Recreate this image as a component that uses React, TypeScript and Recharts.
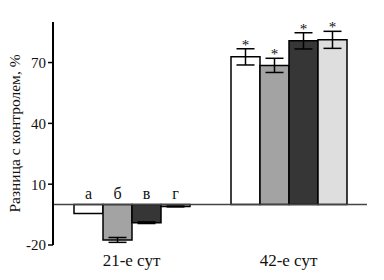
import {
  BarChart,
  Bar,
  XAxis,
  YAxis,
  ErrorBar,
  LabelList,
  ReferenceLine,
} from 'recharts';

const PERIODS = ['21-е сут', '42-е сут'];
const GROUPS = ['а', 'б', 'в', 'г'];
const KEYS = ['a', 'b', 'v', 'g'];
const COLORS = ['#ffffff', '#a3a3a3', '#363636', '#dedede'];

const valuesA = [-4.5, 72.8];
const valuesB = [-17.5, 68.6];
const valuesV = [-9, 80.7];
const valuesG = [-1, 81.2];

const errA = [0, 4];
const errB = [1.2, 3.5];
const errV = [0.4, 4];
const errG = [0.2, 4.2];

const stars = [false, true];
const Y_TICKS = [-20, 10, 40, 70];

const allValues = [valuesA, valuesB, valuesV, valuesG];
const allErr = [errA, errB, errV, errG];

const data = PERIODS.map((p, i) => {
  const row: Record<string, string | number> = { period: p };
  KEYS.forEach((k, j) => {
    row[k] = allValues[j][i];
    row[k + 'Err'] = allErr[j][i];
  });
  return row;
});

const font = '"Liberation Serif", "Times New Roman", serif';

function makeLabel(series: number) {
  return (props: any) => {
    const { x, y, width, height, value, index } = props;
    const top = Math.min(Number(y), Number(y) + Number(height));
    const cx = Number(x) + Number(width) / 2;
    if (index === 0) {
      return (
        <text
          x={cx}
          y={top - 5}
          textAnchor="middle"
          fontFamily={font}
          fontSize={16}
          fill="#111"
        >
          {GROUPS[series]}
        </text>
      );
    }
    if (!stars[index]) return null;
    const pxPerUnit = Math.abs(Number(height)) / Math.abs(Number(value));
    const errPx = allErr[series][index] * pxPerUnit;
    return (
      <text
        x={cx}
        y={top - errPx + 1}
        textAnchor="middle"
        fontFamily={font}
        fontSize={15}
        fill="#111"
      >
        *
      </text>
    );
  };
}

export default function App() {
  return (
    <div style={{ position: 'absolute', left: 0, top: 0, background: '#fff' }}>
      <BarChart
        width={384}
        height={280}
        data={data}
        margin={{ top: 22, right: 17, bottom: 5, left: 5 }}
        barCategoryGap={21}
        barGap={0}
      >
        <XAxis
          dataKey="period"
          axisLine={false}
          tickLine={false}
          height={30}
          tick={{ fontFamily: font, fontSize: 17, fill: '#111' }}
          tickMargin={3}
        />
        <YAxis
          domain={[-20, 90]}
          ticks={Y_TICKS}
          width={48}
          allowDataOverflow
          axisLine={{ stroke: '#000', strokeWidth: 2 }}
          tickLine={{ stroke: '#000', strokeWidth: 1.5 }}
          tickSize={5}
          tick={{ fontFamily: font, fontSize: 15, fill: '#111' }}
          label={{
            value: 'Разница с контролем, %',
            angle: -90,
            position: 'insideLeft',
            dx: 4,
            dy: 0,
            style: { fontFamily: font, fontSize: 15.5, fill: '#111', textAnchor: 'middle' },
          }}
        />
        <ReferenceLine y={0} stroke="#444" strokeWidth={1.5} />
        {KEYS.map((k, j) => (
          <Bar
            key={k}
            dataKey={k}
            fill={COLORS[j]}
            stroke="#000"
            strokeWidth={1.5}
            isAnimationActive={false}
          >
            <ErrorBar
              dataKey={k + 'Err'}
              width={9}
              stroke="#000"
              strokeWidth={1.5}
              isAnimationActive={false}
            />
            <LabelList dataKey={k} content={makeLabel(j)} />
          </Bar>
        ))}
      </BarChart>
    </div>
  );
}
